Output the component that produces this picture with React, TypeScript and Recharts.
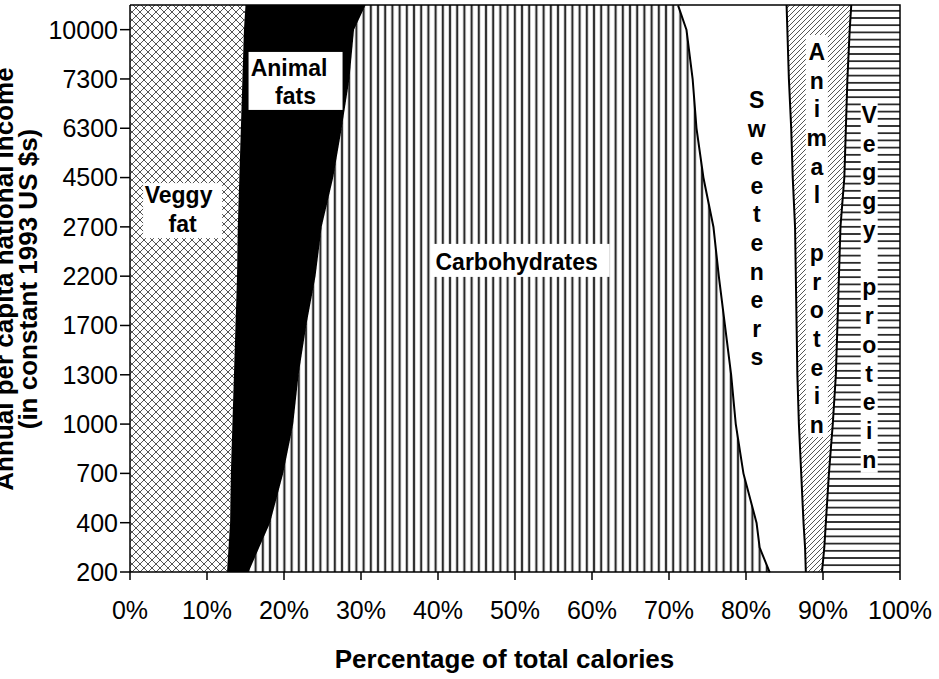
import { AreaChart, Area, XAxis, YAxis, ReferenceDot } from "recharts";

// income levels shown on the vertical axis (bottom to top)
const incomeLabels = ["200", "400", "700", "1000", "1300", "1700", "2200", "2700", "4500", "6300", "7300", "10000"];

// position of each row on the income axis (index into incomeLabels, top edge at 11.5)
const incomeLevel = [0, 0.5, 1, 2, 3, 4, 5, 6, 7, 8, 9, 10, 11, 11.5];

// share of total calories, %
const veggyFat = [12.6, 12.8, 13.0, 13.1, 13.3, 13.5, 13.7, 13.9, 14.0, 14.2, 14.4, 14.6, 14.8, 15.0];
const animalFats = [2.8, 4.0, 5.2, 6.8, 7.9, 8.4, 9.2, 10.2, 10.9, 12.2, 13.1, 13.9, 14.3, 15.6];
const carbohydrates = [67.8, 65.1, 63.3, 59.9, 57.6, 56.3, 54.5, 52.5, 51.0, 48.2, 46.2, 44.7, 43.3, 40.7];
const sweeteners = [4.7, 5.9, 6.1, 7.5, 8.2, 8.6, 9.3, 10.0, 10.6, 11.6, 12.3, 12.5, 13.1, 14.1];
const animalProtein = [2.1, 2.5, 2.9, 3.6, 4.4, 5.0, 5.3, 5.6, 5.9, 6.7, 7.1, 7.6, 8.1, 8.4];
const veggyProtein = [10.0, 9.7, 9.5, 9.1, 8.6, 8.2, 8.0, 7.8, 7.6, 7.1, 6.9, 6.7, 6.4, 6.2];

const percentTicks = [0, 10, 20, 30, 40, 50, 60, 70, 80, 90, 100];

const data = incomeLevel.map((level, i) => ({
  level,
  veggyFat: veggyFat[i],
  animalFats: animalFats[i],
  carbohydrates: carbohydrates[i],
  sweeteners: sweeteners[i],
  animalProtein: animalProtein[i],
  veggyProtein: veggyProtein[i],
}));

const FONT = "Arial, 'Liberation Sans', sans-serif";

// plot box (chart margins + axis sizes)
const PLOT = { left: 130, top: 5, right: 900, bottom: 572 };

type Line = { text: string; dx: number; dy: number };

const BoxLabel = ({ cx, cy, w, h, lines }: { cx: number; cy: number; w: number; h: number; lines: Line[] }) => (
  <g>
    <rect x={cx - w / 2} y={cy - h / 2} width={w} height={h} fill="#fff" />
    {lines.map((l) => (
      <text
        key={l.text}
        x={cx + l.dx}
        y={cy + l.dy}
        textAnchor="middle"
        fontFamily={FONT}
        fontWeight="bold"
        fontSize={23}
        fill="#000"
      >
        {l.text}
      </text>
    ))}
  </g>
);

const StackedLetters = ({
  cx,
  cy,
  text,
  gap,
  box,
}: {
  cx: number;
  cy: number;
  text: string;
  gap: number;
  box?: { w: number; top: number; bottom: number };
}) => {
  const chars = text.split("");
  const last = cy + (chars.length - 1) * gap;
  return (
    <g>
      {box && (
        <rect x={cx - box.w / 2} y={cy - box.top} width={box.w} height={last + box.bottom - (cy - box.top)} fill="#fff" />
      )}
      {chars.map((ch, i) =>
        ch === " " ? null : (
          <text
            key={i}
            x={cx}
            y={cy + i * gap}
            textAnchor="middle"
            fontFamily={FONT}
            fontWeight="bold"
            fontSize={23}
            fill="#000"
          >
            {ch}
          </text>
        )
      )}
    </g>
  );
};

const axisStroke = { stroke: "#000", strokeWidth: 1.5 };

const App = () => {
  return (
    <div style={{ position: "absolute", left: 0, top: 0, width: 939, height: 679, background: "#fff" }}>
      <AreaChart
        width={939}
        height={679}
        data={data}
        layout="vertical"
        margin={{ top: PLOT.top, right: 939 - PLOT.right, bottom: 0, left: 0 }}
      >
        <defs>
          <pattern id="crossHatch" patternUnits="userSpaceOnUse" width={8} height={8}>
            <rect width={8} height={8} fill="#fff" />
            <path d="M0,0 L8,8 M8,0 L0,8" stroke="#555" strokeWidth={1} />
          </pattern>
          <pattern id="vStripes" patternUnits="userSpaceOnUse" width={7.2} height={10}>
            <rect width={7.2} height={10} fill="#fff" />
            <line x1={3.6} y1={0} x2={3.6} y2={10} stroke="#2a2a2a" strokeWidth={2.2} />
          </pattern>
          <pattern id="diagHatch" patternUnits="userSpaceOnUse" width={5} height={5}>
            <rect width={5} height={5} fill="#fff" />
            <path d="M0,5 L5,0 M-1,1 L1,-1 M4,6 L6,4" stroke="#555" strokeWidth={1} />
          </pattern>
          <pattern id="hStripes" patternUnits="userSpaceOnUse" width={10} height={7.2}>
            <rect width={10} height={7.2} fill="#fff" />
            <line x1={0} y1={3.6} x2={10} y2={3.6} stroke="#2a2a2a" strokeWidth={1.8} />
          </pattern>
        </defs>

        <Area type="linear" dataKey="veggyFat" stackId="1" fill="url(#crossHatch)" fillOpacity={1} stroke="none" isAnimationActive={false} />
        <Area type="linear" dataKey="animalFats" stackId="1" fill="#000" fillOpacity={1} stroke="#000" strokeWidth={1} isAnimationActive={false} />
        <Area type="linear" dataKey="carbohydrates" stackId="1" fill="url(#vStripes)" fillOpacity={1} stroke="#000" strokeWidth={4} isAnimationActive={false} />
        <Area type="linear" dataKey="sweeteners" stackId="1" fill="#fff" fillOpacity={1} stroke="#000" strokeWidth={4} isAnimationActive={false} />
        <Area type="linear" dataKey="animalProtein" stackId="1" fill="url(#diagHatch)" fillOpacity={1} stroke="#000" strokeWidth={4} isAnimationActive={false} />
        <Area type="linear" dataKey="veggyProtein" stackId="1" fill="url(#hStripes)" fillOpacity={1} stroke="none" isAnimationActive={false} />

        <XAxis
          type="number"
          domain={[0, 100]}
          ticks={percentTicks}
          tickFormatter={(v: number) => `${v}%`}
          height={679 - PLOT.bottom}
          tick={{ fontSize: 25, fill: "#000", fontFamily: FONT }}
          tickSize={8}
          tickMargin={21}
          axisLine={axisStroke}
          tickLine={axisStroke}
          interval={0}
        />
        <YAxis
          type="number"
          dataKey="level"
          domain={[0, 11.5]}
          reversed
          ticks={incomeLabels.map((_, i) => i)}
          tickFormatter={(v: number) => incomeLabels[v] ?? ""}
          width={PLOT.left}
          tick={{ fontSize: 25, fill: "#000", fontFamily: FONT }}
          tickSize={10}
          tickMargin={2}
          axisLine={axisStroke}
          tickLine={axisStroke}
          interval={0}
        />

        <ReferenceDot
          x={6.83}
          y={7.33}
          ifOverflow="visible"
          shape={(p: any) => (
            <BoxLabel
              cx={p.cx}
              cy={p.cy}
              w={79}
              h={55}
              lines={[
                { text: "Veggy", dx: -4, dy: -7.5 },
                { text: "fat", dx: 0, dy: 21.5 },
              ]}
            />
          )}
        />
        <ReferenceDot
          x={21.5}
          y={9.96}
          ifOverflow="visible"
          shape={(p: any) => (
            <BoxLabel
              cx={p.cx}
              cy={p.cy}
              w={94}
              h={58}
              lines={[
                { text: "Animal", dx: -6.5, dy: -5 },
                { text: "fats", dx: 0, dy: 23 },
              ]}
            />
          )}
        />
        <ReferenceDot
          x={50.8}
          y={6.32}
          ifOverflow="visible"
          shape={(p: any) => (
            <BoxLabel cx={p.cx} cy={p.cy} w={177} h={33} lines={[{ text: "Carbohydrates", dx: -4.5, dy: 9.5 }]} />
          )}
        />
        <ReferenceDot
          x={81.4}
          y={9.41}
          ifOverflow="visible"
          shape={(p: any) => <StackedLetters cx={p.cx} cy={p.cy} text="Sweeteners" gap={28.6} />}
        />
        <ReferenceDot
          x={89.2}
          y={10.385}
          ifOverflow="visible"
          shape={(p: any) => (
            <StackedLetters cx={p.cx} cy={p.cy} text="Animal protein" gap={28.7} box={{ w: 22, top: 25, bottom: 4 }} />
          )}
        />
        <ReferenceDot
          x={96.0}
          y={9.11}
          ifOverflow="visible"
          shape={(p: any) => (
            <StackedLetters cx={p.cx} cy={p.cy} text="Veggy protein" gap={28.75} box={{ w: 17, top: 21, bottom: 5 }} />
          )}
        />
      </AreaChart>

      <svg
        width={939}
        height={679}
        style={{ position: "absolute", left: 0, top: 0, pointerEvents: "none" }}
      >
        {/* frame on the top and right of the plot */}
        <polyline
          points={`${PLOT.left},${PLOT.top} ${PLOT.right},${PLOT.top} ${PLOT.right},${PLOT.bottom}`}
          fill="none"
          stroke="#000"
          strokeWidth={1.5}
        />
        <text x={504.5} y={668} textAnchor="middle" fontFamily={FONT} fontWeight="bold" fontSize={26} fill="#000">
          Percentage of total calories
        </text>
        <g transform="translate(13,279) rotate(-90)">
          <text x={0} y={0} textAnchor="middle" fontFamily={FONT} fontWeight="bold" fontSize={26} fill="#000">
            Annual per capita national income
          </text>
        </g>
        <g transform="translate(37,279) rotate(-90)">
          <text x={0} y={0} textAnchor="middle" fontFamily={FONT} fontWeight="bold" fontSize={26} fill="#000">
            (in constant 1993 US $s)
          </text>
        </g>
      </svg>
    </div>
  );
};

export default App;
